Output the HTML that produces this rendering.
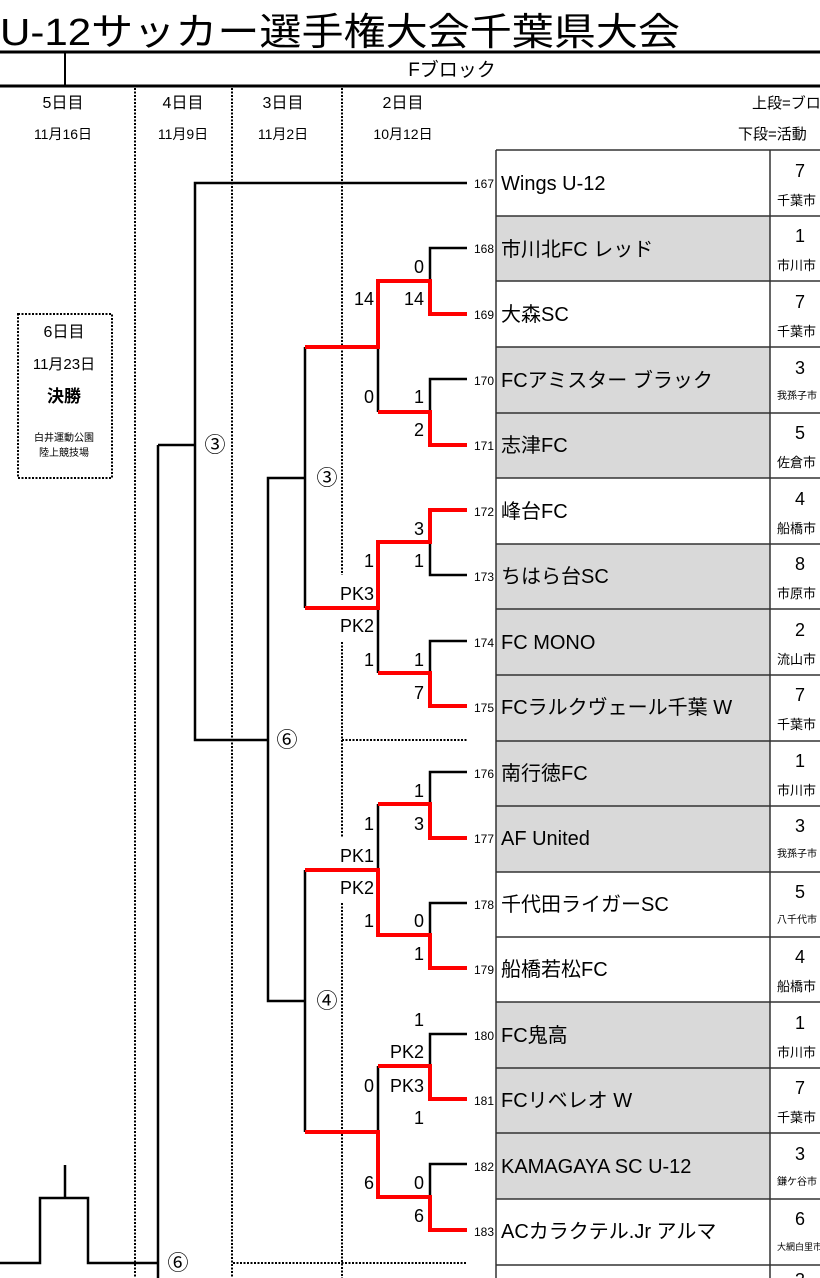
<!DOCTYPE html>
<html><head><meta charset="utf-8"><style>
html,body{margin:0;padding:0;background:#fff;}
svg{display:block;font-family:"Liberation Sans","Noto Sans CJK JP",sans-serif;}
</style></head><body>
<svg width="820" height="1278" viewBox="0 0 820 1278" xmlns="http://www.w3.org/2000/svg">
<!-- Title -->
<text x="0" y="45" font-size="38" fill="#000" textLength="680" lengthAdjust="spacingAndGlyphs">U-12サッカー選手権大会千葉県大会</text>
<line x1="0" y1="52" x2="820" y2="52" stroke="#000" stroke-width="3"/>
<line x1="65" y1="52" x2="65" y2="86" stroke="#000" stroke-width="2"/>
<text x="452" y="76" font-size="19" text-anchor="middle">Fブロック</text>
<line x1="0" y1="86" x2="820" y2="86" stroke="#000" stroke-width="3"/>
<g font-size="16" text-anchor="middle">
<text x="63" y="108">5日目</text><text x="183" y="108">4日目</text><text x="283" y="108">3日目</text><text x="403" y="108">2日目</text>
</g>
<g font-size="14" text-anchor="middle">
<text x="63" y="139">11月16日</text><text x="183" y="139">11月9日</text><text x="283" y="139">11月2日</text><text x="403" y="139">10月12日</text>
</g>
<text x="752" y="108" font-size="15">上段=ブロ</text>
<text x="738" y="139" font-size="15">下段=活動</text>

<!-- dotted lines -->
<g stroke="#000" stroke-width="2" stroke-dasharray="2,1.5" fill="none">
<line x1="135" y1="88" x2="135" y2="1278"/>
<line x1="232" y1="88" x2="232" y2="1278"/>
<line x1="342" y1="88" x2="342" y2="575"/>
<line x1="342" y1="642" x2="342" y2="837"/>
<line x1="342" y1="903" x2="342" y2="1278"/>
<line x1="342" y1="740" x2="467" y2="740"/>
<line x1="233" y1="1263" x2="467" y2="1263"/>
<rect x="18" y="314" width="94" height="164"/>
</g>
<g text-anchor="middle" fill="#000">
<text x="64" y="337" font-size="16">6日目</text>
<text x="64" y="369" font-size="15">11月23日</text>
<text x="64" y="402" font-size="17" font-weight="bold">決勝</text>
<text x="64" y="441" font-size="10">白井運動公園</text>
<text x="64" y="456" font-size="10">陸上競技場</text>
</g>

<!-- table -->
<g>
<rect x="496" y="150" width="274" height="66" fill="#fff"/>
<rect x="496" y="216" width="274" height="65.6" fill="#d9d9d9"/>
<rect x="496" y="347" width="274" height="131" fill="#d9d9d9"/>
<rect x="496" y="544" width="274" height="328" fill="#d9d9d9"/>
<rect x="496" y="1002" width="274" height="197" fill="#d9d9d9"/>
</g>
<g stroke="#333" stroke-width="1.5">
<line x1="496" y1="150" x2="496" y2="1278"/>
<line x1="770" y1="150" x2="770" y2="1278"/>
<line x1="496" y1="150" x2="820" y2="150"/>
<line x1="496" y1="216" x2="820" y2="216"/>
<line x1="496" y1="281" x2="820" y2="281"/>
<line x1="496" y1="347" x2="820" y2="347"/>
<line x1="496" y1="413" x2="820" y2="413"/>
<line x1="496" y1="478" x2="820" y2="478"/>
<line x1="496" y1="544" x2="820" y2="544"/>
<line x1="496" y1="609" x2="820" y2="609"/>
<line x1="496" y1="675" x2="820" y2="675"/>
<line x1="496" y1="741" x2="820" y2="741"/>
<line x1="496" y1="806" x2="820" y2="806"/>
<line x1="496" y1="872" x2="820" y2="872"/>
<line x1="496" y1="937" x2="820" y2="937"/>
<line x1="496" y1="1002" x2="820" y2="1002"/>
<line x1="496" y1="1068" x2="820" y2="1068"/>
<line x1="496" y1="1133" x2="820" y2="1133"/>
<line x1="496" y1="1199" x2="820" y2="1199"/>
<line x1="496" y1="1265" x2="820" y2="1265"/>
</g>
<g font-size="20" fill="#000">
<text x="501" y="190">Wings U-12</text>
<text x="501" y="256">市川北FC レッド</text>
<text x="501" y="321">大森SC</text>
<text x="501" y="387">FCアミスター ブラック</text>
<text x="501" y="452">志津FC</text>
<text x="501" y="518">峰台FC</text>
<text x="501" y="583">ちはら台SC</text>
<text x="501" y="649">FC MONO</text>
<text x="501" y="714">FCラルクヴェール千葉 W</text>
<text x="501" y="780">南行徳FC</text>
<text x="501" y="845">AF United</text>
<text x="501" y="911">千代田ライガーSC</text>
<text x="501" y="976">船橋若松FC</text>
<text x="501" y="1042">FC鬼高</text>
<text x="501" y="1107">FCリベレオ W</text>
<text x="501" y="1173">KAMAGAYA SC U-12</text>
<text x="501" y="1238">ACカラクテル.Jr アルマ</text>
</g>
<g font-size="12" text-anchor="end" fill="#000">
<text x="494" y="188">167</text><text x="494" y="253">168</text><text x="494" y="319">169</text><text x="494" y="385">170</text>
<text x="494" y="450">171</text><text x="494" y="516">172</text><text x="494" y="581">173</text><text x="494" y="647">174</text>
<text x="494" y="712">175</text><text x="494" y="778">176</text><text x="494" y="843">177</text><text x="494" y="909">178</text>
<text x="494" y="974">179</text><text x="494" y="1040">180</text><text x="494" y="1105">181</text><text x="494" y="1171">182</text>
<text x="494" y="1236">183</text>
</g>
<g font-size="18" text-anchor="middle" fill="#000">
<text x="800" y="177">7</text><text x="800" y="242">1</text><text x="800" y="308">7</text><text x="800" y="374">3</text>
<text x="800" y="439">5</text><text x="800" y="505">4</text><text x="800" y="570">8</text><text x="800" y="636">2</text>
<text x="800" y="701">7</text><text x="800" y="767">1</text><text x="800" y="832">3</text><text x="800" y="898">5</text>
<text x="800" y="963">4</text><text x="800" y="1029">1</text><text x="800" y="1094">7</text><text x="800" y="1160">3</text>
<text x="800" y="1225">6</text><text x="800" y="1286">3</text>
</g>
<g font-size="13" fill="#000">
<text x="777" y="205">千葉市</text><text x="777" y="270">市川市</text><text x="777" y="336">千葉市</text>
<text x="777" y="399" font-size="10">我孫子市</text>
<text x="777" y="467">佐倉市</text><text x="777" y="533">船橋市</text><text x="777" y="598">市原市</text>
<text x="777" y="664">流山市</text><text x="777" y="729">千葉市</text><text x="777" y="795">市川市</text>
<text x="777" y="857" font-size="10">我孫子市</text>
<text x="777" y="923" font-size="10">八千代市</text>
<text x="777" y="991">船橋市</text><text x="777" y="1057">市川市</text><text x="777" y="1122">千葉市</text>
<text x="777" y="1185" font-size="10">鎌ケ谷市</text>
<text x="777" y="1250" font-size="9">大網白里市</text>
</g>

<!-- black bracket lines -->
<g stroke="#000" stroke-width="2.5" fill="none">
<polyline points="467,183 195,183 195,740 268,740"/>
<line x1="158" y1="445" x2="195" y2="445"/>
<line x1="158" y1="445" x2="158" y2="1278"/>
<polyline points="467,248 430,248 430,281"/>
<line x1="378" y1="347" x2="378" y2="412"/>
<polyline points="467,379 430,379 430,412"/>
<line x1="305" y1="347" x2="305" y2="608"/>
<polyline points="305,478 268,478 268,1001 305,1001"/>
<polyline points="467,575 430,575 430,542"/>
<line x1="378" y1="608" x2="378" y2="673"/>
<polyline points="467,641 430,641 430,673"/>
<polyline points="467,772 430,772 430,804"/>
<line x1="378" y1="804" x2="378" y2="870"/>
<line x1="305" y1="870" x2="305" y2="1132"/>
<polyline points="467,903 430,903 430,935"/>
<polyline points="467,1034 430,1034 430,1066"/>
<line x1="378" y1="1066" x2="378" y2="1132"/>
<polyline points="467,1164 430,1164 430,1197"/>
<polyline points="0,1263 40,1263 40,1198 88,1198 88,1263 158,1263"/>
<line x1="65" y1="1198" x2="65" y2="1165"/>
</g>
<!-- red winner lines -->
<g stroke="#ff0000" stroke-width="4" fill="none">
<polyline points="467,314 430,314 430,281 378,281 378,347 305,347"/>
<polyline points="467,445 430,445 430,412 378,412"/>
<polyline points="467,510 430,510 430,542 378,542 378,608 305,608"/>
<polyline points="467,706 430,706 430,673 378,673"/>
<polyline points="467,838 430,838 430,804 378,804"/>
<polyline points="467,968 430,968 430,935 378,935 378,870 305,870"/>
<polyline points="467,1099 430,1099 430,1066 378,1066"/>
<polyline points="467,1230 430,1230 430,1197 378,1197 378,1132 305,1132"/>
</g>

<!-- scores -->
<g font-size="18" text-anchor="end" fill="#000">
<text x="424" y="273">0</text>
<text x="374" y="305">14</text><text x="424" y="305">14</text>
<text x="374" y="403">0</text><text x="424" y="403">1</text><text x="424" y="436">2</text>
<text x="424" y="535">3</text>
<text x="374" y="567">1</text><text x="424" y="567">1</text>
<text x="374" y="600">PK3</text><text x="374" y="632">PK2</text>
<text x="374" y="666">1</text><text x="424" y="666">1</text><text x="424" y="699">7</text>
<text x="424" y="797">1</text>
<text x="374" y="830">1</text><text x="424" y="830">3</text>
<text x="374" y="862">PK1</text><text x="374" y="894">PK2</text>
<text x="374" y="927">1</text><text x="424" y="927">0</text><text x="424" y="960">1</text>
<text x="424" y="1026">1</text>
<text x="424" y="1058">PK2</text>
<text x="374" y="1092">0</text><text x="424" y="1092">PK3</text>
<text x="424" y="1124">1</text>
<text x="374" y="1189">6</text><text x="424" y="1189">0</text><text x="424" y="1222">6</text>
</g>
<g font-size="21" text-anchor="middle" fill="#000">
<text x="215" y="452">③</text>
<text x="327" y="485">③</text>
<text x="287" y="747">⑥</text>
<text x="327" y="1008">④</text>
<text x="178" y="1270">⑥</text>
</g>
</svg>
</body></html>
